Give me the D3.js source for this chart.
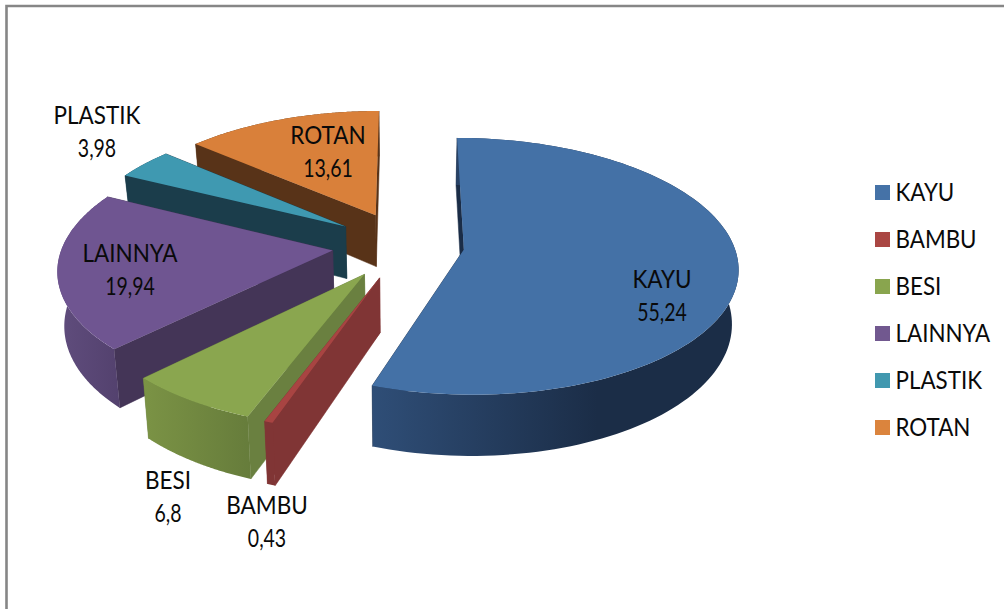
<!DOCTYPE html>
<html><head><meta charset="utf-8">
<script src="https://cdn.jsdelivr.net/npm/d3@7"></script>
<style>html,body{margin:0;padding:0;background:#fff}svg{display:block}text{font-family:Lato,"Open Sans",sans-serif;fill:#0a0a0a}</style>
</head><body><svg id="c" width="1004" height="609"></svg>
<script>
const categories = ["KAYU","BAMBU","BESI","LAINNYA","PLASTIK","ROTAN"];
const values = [55.24,0.43,6.8,19.94,3.98,13.61];
const valueLabels = ["55,24","0,43","6,8","19,94","3,98","13,61"];
const topColors = ["#4471a6","#a84442","#8aa64f","#6f5591","#3f99b1","#d9803a"];
const legendColors = ["#4572a7","#aa4643","#89a54e","#71588f","#4198af","#db843d"];
const wallLight = ["#2f4e77","#803535","#7b9345","#604d7d","#1b3d4b","#583318"];
const wallDark = ["#1b2d47","#803535","#667c3b","#53416e","#1b3d4b","#583318"];
const faceColors = ["#1b2d47","#803535","#6a8040","#443557","#1b3d4b","#583318"];
const explode = [0.22,0.27,0.27,0.27,0.27,0.27];
const labelAt = [[662,288],[267,514],[168,489],[130,262],[97,124],[328,144]];
const drawOrder = [5,4,3,2,1,0];

const W=1004,H=609, X0=405,Y0=245, RX=270,RY=125, K=0.13, DEPTH=53, BOTTOM=0.98;
const svg=d3.select("#c");
const defs=svg.append("defs");
svg.append("path").attr("d",`M6.5,${H+5}V6H${W+5}`).attr("fill","none").attr("stroke","#868686").attr("stroke-width",2.6);

const arcs=d3.pie().sort(null).value(d=>d)(values);
function project(a,r,i,low){
  const mid=(arcs[i].startAngle+arcs[i].endAngle)/2;
  const X=RX*explode[i]*Math.sin(mid)+RX*r*Math.sin(a);
  const V=-explode[i]*Math.cos(mid)-r*Math.cos(a);
  const s=1/(1-K*V);
  return low?[X0+X*s*BOTTOM,Y0+RY*V*s+DEPTH*s]:[X0+X*s,Y0+RY*V*s];
}
const line=d3.line();
const angles=(a0,a1)=>d3.range(0,121).map(j=>a0+(a1-a0)*j/120);

drawOrder.forEach(i=>{
  const d=arcs[i], g=svg.append("g");
  const apexT=project(d.startAngle,0,i,false), apexB=project(d.startAngle,0,i,true);
  const walls=[d.startAngle,d.endAngle].map(a=>{
    const oT=project(a,1,i,false),oB=project(a,1,i,true);
    return {pts:[apexT,oT,oB,apexB],y:oT[1]};
  }).sort((p,q)=>p.y-q.y);
  g.selectAll("path.w").data(walls).join("path").attr("class","w")
    .attr("d",w=>line(w.pts)+"Z").attr("fill",faceColors[i]).attr("stroke",faceColors[i]).attr("stroke-width",.5);

  const as=angles(d.startAngle,d.endAngle);
  const upper=as.map(a=>project(a,1,i,false));
  const lower=as.map(a=>project(a,1,i,true)).reverse();
  const xs=upper.concat(lower).map(p=>p[0]);
  const x1=d3.min(xs);
  const x2=i===0?x1+225:d3.max(xs);
  const id="wall"+i;
  const grad=defs.append("linearGradient").attr("id",id).attr("gradientUnits","userSpaceOnUse")
    .attr("x1",x1).attr("x2",x2).attr("y1",0).attr("y2",0);
  grad.append("stop").attr("offset",0).attr("stop-color",wallLight[i]);
  grad.append("stop").attr("offset",1).attr("stop-color",wallDark[i]);
  g.append("path").attr("d",line(upper.concat(lower))+"Z").attr("fill",`url(#${id})`);

  const top=[apexT,...upper];
  g.append("path").attr("d",line(top)+"Z").attr("fill",topColors[i]);
});

const labels=svg.append("g").attr("text-anchor","middle").style("font-size","25px");
categories.forEach((c,i)=>{
  const [x,y]=labelAt[i];
  labels.append("text").attr("y",y).text(c).attr("transform",`translate(${x},0) scale(0.9,1)`);
  labels.append("text").attr("y",y+33).text(valueLabels[i]).attr("transform",`translate(${x},0) scale(0.78,1)`);
});

const ly=d3.scalePoint().domain(categories).range([192.5,427.5]);
const leg=svg.append("g").selectAll("g").data(categories).join("g").attr("transform",c=>`translate(875,${ly(c)})`);
leg.append("rect").attr("y",-7.5).attr("width",15).attr("height",15).attr("fill",(c,i)=>legendColors[i]);
leg.append("text").attr("y",8).style("font-size","25px").text(c=>c)
  .attr("transform","translate(20.5,0) scale(0.895,1)");
</script></body></html>
